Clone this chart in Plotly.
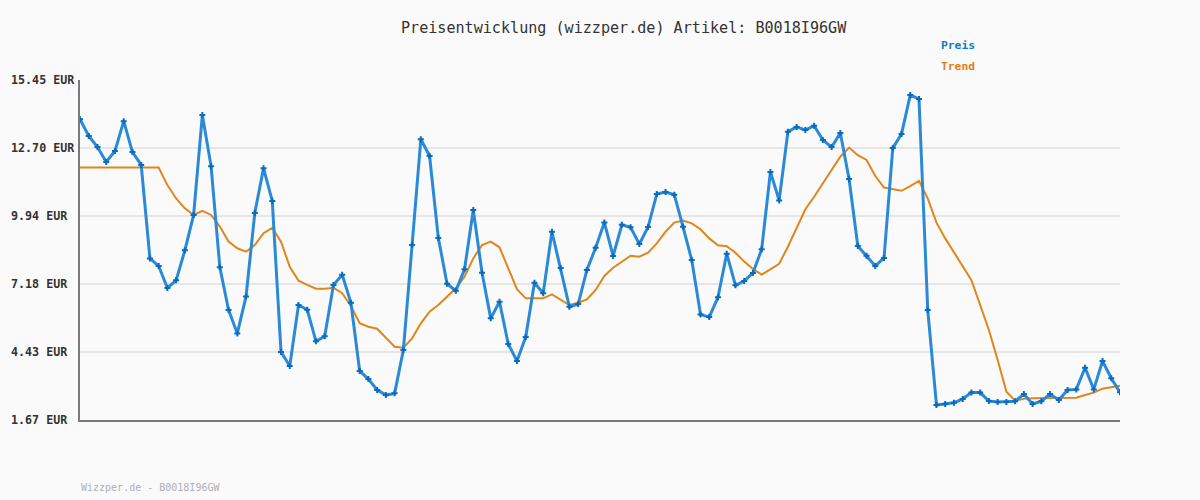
import plotly.graph_objects as go

preis = [13.86, 13.18, 12.73, 12.13, 12.57, 13.78, 12.53, 12.01, 8.22, 7.91,
         7.02, 7.33, 8.55, 9.98, 14.03, 11.95, 7.86, 6.13, 5.18, 6.68,
         10.06, 11.87, 10.55, 4.43, 3.86, 6.33, 6.14, 4.86, 5.06, 7.14,
         7.56, 6.42, 3.66, 3.33, 2.89, 2.68, 2.75, 4.51, 8.76, 13.05,
         12.37, 9.05, 7.19, 6.91, 7.78, 10.18, 7.64, 5.79, 6.46, 4.75,
         4.06, 5.03, 7.23, 6.81, 9.30, 7.83, 6.26, 6.37, 7.75, 8.65,
         9.67, 8.32, 9.58, 9.48, 8.80, 9.49, 10.83, 10.91, 10.80, 9.50,
         8.15, 5.95, 5.84, 6.64, 8.41, 7.13, 7.30, 7.63, 8.59, 11.72,
         10.57, 13.35, 13.55, 13.42, 13.60, 13.02, 12.73, 13.30, 11.44, 8.72,
         8.33, 7.91, 8.24, 12.69, 13.26, 14.84, 14.68, 6.13, 2.28, 2.32,
         2.37, 2.52, 2.78, 2.78, 2.44, 2.40, 2.40, 2.43, 2.72, 2.32,
         2.43, 2.72, 2.48, 2.89, 2.91, 3.79, 2.91, 4.06, 3.36, 2.79]

trend = [11.90, 11.90, 11.90, 11.90, 11.90, 11.90, 11.90, 11.90, 11.90, 11.90,
         11.19, 10.65, 10.25, 9.98, 10.15, 9.98, 9.51, 8.90, 8.63, 8.49,
         8.76, 9.24, 9.46, 8.90, 7.88, 7.32, 7.15, 6.99, 6.99, 7.03,
         6.81, 6.29, 5.59, 5.45, 5.37, 5.01, 4.64, 4.60, 4.98, 5.59,
         6.06, 6.33, 6.67, 7.01, 7.48, 8.22, 8.76, 8.90, 8.67, 7.82,
         6.97, 6.60, 6.60, 6.60, 6.76, 6.53, 6.33, 6.42, 6.56, 6.94,
         7.51, 7.84, 8.09, 8.33, 8.29, 8.45, 8.83, 9.30, 9.67, 9.75,
         9.64, 9.40, 9.03, 8.75, 8.71, 8.45, 8.09, 7.79, 7.56, 7.78,
         8.00, 8.69, 9.46, 10.21, 10.72, 11.26, 11.80, 12.34, 12.71, 12.40,
         12.21, 11.56, 11.09, 11.02, 10.96, 11.15, 11.36, 10.65, 9.67, 9.03,
         8.45, 7.91, 7.34, 6.33, 5.32, 4.10, 2.82, 2.45, 2.53, 2.55,
         2.55, 2.55, 2.55, 2.55, 2.57, 2.68, 2.78, 2.94, 3.00, 3.06]

tick_vals = [1.67, 4.43, 7.18, 9.94, 12.70, 15.45]
tick_labels = ["1.67 EUR", "4.43 EUR", "7.18 EUR", "9.94 EUR", "12.70 EUR", "15.45 EUR"]

title_text = "Preisentwicklung (wizzper.de) Artikel: B0018I96GW"
footer_text = "Wizzper.de - B0018I96GW"

x = list(range(len(preis)))
MONO = "DejaVu Sans Mono, Liberation Mono, monospace"

fig = go.Figure()
fig.add_trace(go.Scatter(
    x=x, y=trend, mode="lines", name="Trend",
    line=dict(color="#e0861a", width=2), hoverinfo="skip"))
fig.add_trace(go.Scatter(
    x=x, y=preis, mode="lines+markers", name="Preis",
    line=dict(color="#2a8ad8", width=3),
    marker=dict(symbol="cross", size=5, color="#0a6cbd", line=dict(width=0))))


def py(pix):
    # vertical pixel (page) -> paper coordinate; plot area spans y=80..420
    return (420 - pix) / 340


def px(pix):
    return (pix - 80) / 1040


annotations = [
    dict(text=title_text, xref="paper", yref="paper", x=px(624), y=py(28),
         xanchor="center", yanchor="middle", showarrow=False,
         font=dict(family=MONO, size=15.1, color="#333333")),
    dict(text="<b>Preis</b>", xref="paper", yref="paper", x=px(939), y=py(46),
         xanchor="left", yanchor="middle", showarrow=False,
         font=dict(family=MONO, size=11.3, color="#0a7cc8")),
    dict(text="<b>Trend</b>", xref="paper", yref="paper", x=px(939), y=py(67),
         xanchor="left", yanchor="middle", showarrow=False,
         font=dict(family=MONO, size=11.3, color="#e07f10")),
    dict(text=footer_text, xref="paper", yref="paper", x=px(79), y=py(487),
         xanchor="left", yanchor="middle", showarrow=False,
         font=dict(family=MONO, size=10, color="#b0b0b0")),
]

for v, lab in zip(tick_vals, tick_labels):
    annotations.append(dict(
        text="<b>" + lab + "</b>", xref="paper", yref="y", x=px(9), y=v,
        xanchor="left", yanchor="middle", showarrow=False,
        font=dict(family=MONO, size=11.7, color="#333333")))

fig.update_layout(
    width=1200, height=500,
    margin=dict(l=80, r=80, t=80, b=80),
    paper_bgcolor="#fafafa", plot_bgcolor="#fafafa",
    showlegend=False,
    annotations=annotations,
    xaxis=dict(range=[0, len(preis) - 1], showgrid=False, zeroline=False,
               showticklabels=False, ticks="", showline=True,
               linecolor="#7a7a7a", linewidth=2, fixedrange=True),
    yaxis=dict(range=[tick_vals[0], tick_vals[-1]], tickvals=tick_vals,
               showticklabels=False, showgrid=True, gridcolor="#e6e6e6",
               gridwidth=2, zeroline=False, ticks="", showline=True,
               linecolor="#7a7a7a", linewidth=2, fixedrange=True),
)

fig.write_html(
    "out.html",
    config={"displayModeBar": False},
    post_script="document.body.style.margin='0';document.body.style.background='#fafafa';",
)
